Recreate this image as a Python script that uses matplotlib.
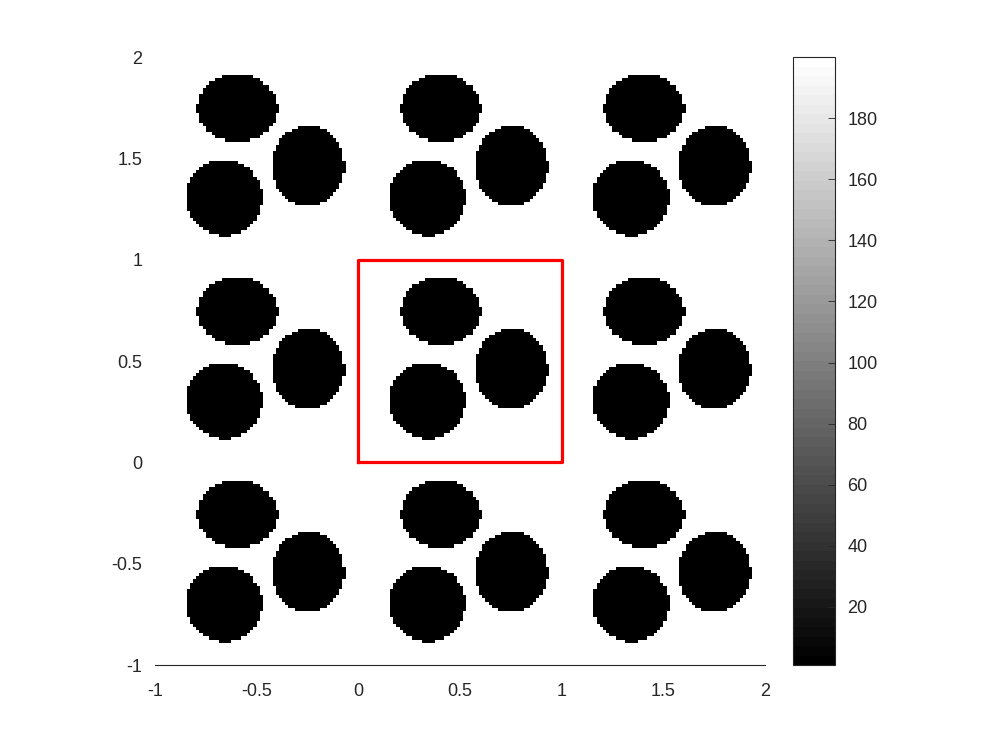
import numpy as np
import matplotlib.pyplot as plt

# blobs inside the unit cell [0,1]x[0,1]: centre x, centre y, radius x, radius y
blob_cx = [0.406, 0.752, 0.340]
blob_cy = [0.743, 0.460, 0.302]
blob_rx = [0.197, 0.180, 0.188]
blob_ry = [0.168, 0.198, 0.188]

blob_val = 1      # value inside the blobs
bg_val = 200      # background value
n_cell = 64       # pixels per unit cell
n_tile = 3        # tiles in each direction (-1..2)

xticks = [-1, -0.5, 0, 0.5, 1, 1.5, 2]
yticks = [-1, -0.5, 0, 0.5, 1, 1.5, 2]
cticks = [20, 40, 60, 80, 100, 120, 140, 160, 180]

plt.rcParams['font.family'] = ['Liberation Sans', 'DejaVu Sans']

# rasterise one cell, then tile it
s = (np.arange(n_cell) + 0.5) / n_cell
X, Y = np.meshgrid(s, s)
cell = np.full((n_cell, n_cell), float(bg_val))
for cx, cy, rx, ry in zip(blob_cx, blob_cy, blob_rx, blob_ry):
    inside = ((X - cx) / rx) ** 2 + ((Y - cy) / ry) ** 2 <= 1
    cell[inside] = blob_val
img = np.tile(cell, (n_tile, n_tile))

fig = plt.figure(figsize=(10, 7.5), dpi=100)
ax = fig.add_axes([0.155, 0.1133, 0.61, 0.8107])
cax = fig.add_axes([0.793, 0.1133, 0.042, 0.8107])

im = ax.imshow(img, cmap=plt.get_cmap('gray', 64), vmin=blob_val, vmax=bg_val,
               origin='lower', extent=(-1, 2, -1, 2), interpolation='nearest',
               aspect='auto')

# red unit cell
ax.plot([0, 1, 1, 0, 0], [0, 0, 1, 1, 0], color='#ff0000', lw=2.3)

ax.set_xlim(-1, 2)
ax.set_ylim(-1, 2)
ax.set_xticks(xticks)
ax.set_yticks(yticks)
ax.set_xticklabels(['-1', '-0.5', '0', '0.5', '1', '1.5', '2'])
ax.set_yticklabels(['-1', '-0.5', '0', '0.5', '1', '1.5', '2'])
ax.tick_params(length=0, labelsize=13, colors='#262626')
ax.tick_params(axis='x', pad=13)
ax.tick_params(axis='y', pad=9)
for side in ['left', 'top', 'right']:
    ax.spines[side].set_visible(False)
ax.spines['bottom'].set_color('#262626')
ax.spines['bottom'].set_linewidth(0.8)

cb = fig.colorbar(im, cax=cax, ticks=cticks)
cb.outline.set_linewidth(0.8)
cb.outline.set_edgecolor('#262626')
cax.tick_params(direction='in', length=5, width=0.6, labelsize=13, pad=9,
                colors='#262626')

fig.savefig('out.png', dpi=100)
